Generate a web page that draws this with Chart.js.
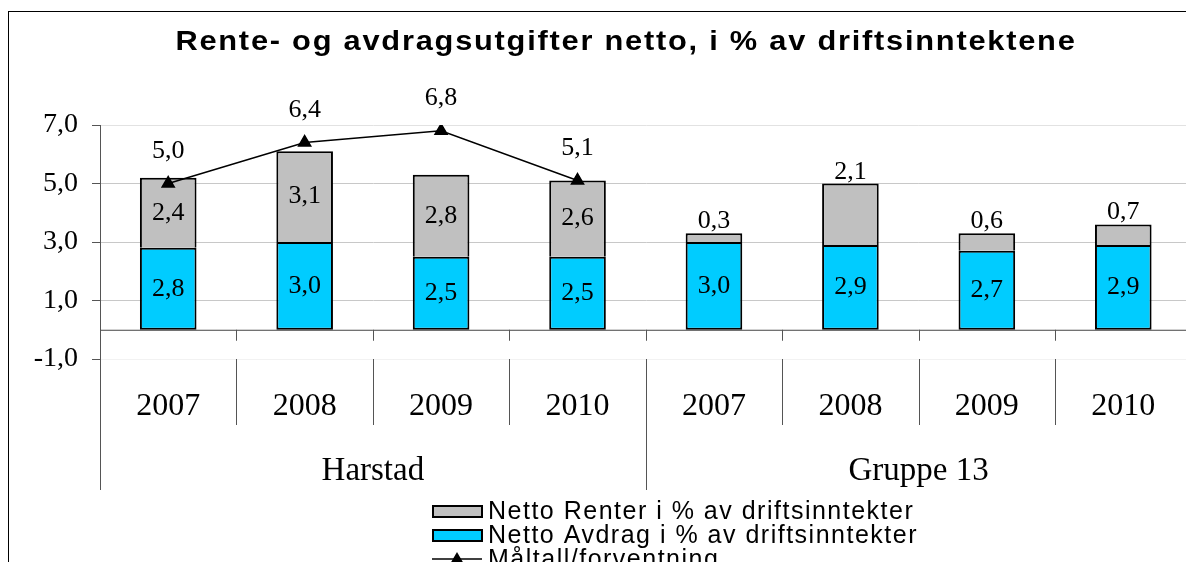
<!DOCTYPE html>
<html>
<head>
<meta charset="utf-8">
<title>Rente- og avdragsutgifter</title>
<script src="https://cdn.jsdelivr.net/npm/chart.js@4.4.0/dist/chart.umd.min.js"></script>
<style>
    html, body { margin: 0; padding: 0; background: #fff; overflow: hidden; width: 1186px; height: 562px; }
    #frame { position: absolute; left: 8px; top: 11px; width: 1400px; height: 800px; border-left: 1.5px solid #000; border-top: 1.5px solid #000; }
    #title { position: absolute; left: 0; top: 25px; width: 1252px; text-align: center; line-height: 28px;
             font: bold 28px "Liberation Sans", Arial, sans-serif; letter-spacing: 1.6px; color: #000;
             transform: scaleX(1.1); transform-origin: 626px 0; }
    #chart { position: absolute; left: 0; top: 0; }
</style>
</head>
<body>
<div id="frame"></div>
<canvas id="chart" width="1200" height="562"></canvas>
<div id="title">Rente- og avdragsutgifter netto, i % av driftsinntektene</div>
<script>
// data
var years = ['2007', '2008', '2009', '2010', '2007', '2008', '2009', '2010'];
var groups = ['Harstad', 'Gruppe 13'];
var avdrag = [2.8, 3.0, 2.5, 2.5, 3.0, 2.9, 2.7, 2.9];
var renter = [2.4, 3.1, 2.8, 2.6, 0.3, 2.1, 0.6, 0.7];
var maltall = [5.0, 6.4, 6.8, 5.1, null, null, null, null];
var yTicks = [-1, 1, 3, 5, 7];

var serif = '"Liberation Serif", "Times New Roman", serif';
var sans = '"Liberation Sans", Arial, sans-serif';

function fmt(v) {
    return v.toFixed(1).replace('.', ',');
}

// zero line, two-level category axis, value labels and legend
var excelPlugin = {
    id: 'excelPlugin',
    beforeDatasetsDraw: function (chart) {
        var ctx = chart.ctx, area = chart.chartArea;
        var y0 = chart.scales.y.getPixelForValue(0);
        ctx.save();
        ctx.strokeStyle = '#444';
        ctx.lineWidth = 1;
        ctx.beginPath();
        ctx.moveTo(area.left, y0 + 0.5);
        ctx.lineTo(area.right, y0 + 0.5);
        ctx.stroke();
        ctx.restore();
    },
    afterDatasetsDraw: function (chart) {
        var ctx = chart.ctx;
        ctx.save();
        ctx.fillStyle = '#000';
        ctx.font = '26px ' + serif;
        ctx.textAlign = 'center';

        // blue segments
        chart.getDatasetMeta(0).data.forEach(function (el, j) {
            ctx.textBaseline = 'middle';
            ctx.fillText(fmt(avdrag[j]), el.x, (el.y + el.base) / 2);
        });
        // gray segments: inside for Harstad, on top for Gruppe 13
        chart.getDatasetMeta(1).data.forEach(function (el, j) {
            if (j < 4) {
                ctx.textBaseline = 'middle';
                ctx.fillText(fmt(renter[j]), el.x, (el.y + el.base) / 2);
            } else {
                ctx.textBaseline = 'alphabetic';
                ctx.fillText(fmt(renter[j]), el.x, el.y - 5);
            }
        });
        // line points
        chart.getDatasetMeta(2).data.forEach(function (el, j) {
            if (maltall[j] === null) return;
            ctx.textBaseline = 'alphabetic';
            ctx.fillText(fmt(maltall[j]), el.x, el.y - 26);
        });
        ctx.restore();
    },
    afterDraw: function (chart) {
        var ctx = chart.ctx, area = chart.chartArea, x = chart.scales.x;
        var y0 = chart.scales.y.getPixelForValue(0);
        var half = (x.getPixelForValue(1) - x.getPixelForValue(0)) / 2;
        var n = years.length;
        ctx.save();
        ctx.strokeStyle = '#555';
        ctx.lineWidth = 1;
        ctx.beginPath();
        for (var i = 0; i <= n; i++) {
            var bx = Math.round((i < n ? x.getPixelForValue(i) - half : x.getPixelForValue(n - 1) + half)) + 0.5;
            ctx.moveTo(bx, y0);
            ctx.lineTo(bx, y0 + 11);
            ctx.moveTo(bx, area.bottom);
            ctx.lineTo(bx, (i % 4 === 0) ? area.bottom + 131 : area.bottom + 66);
        }
        ctx.stroke();

        ctx.fillStyle = '#000';
        ctx.textAlign = 'center';
        ctx.textBaseline = 'middle';
        ctx.font = '32px ' + serif;
        years.forEach(function (yr, j) {
            ctx.fillText(yr, x.getPixelForValue(j), area.bottom + 48);
        });
        ctx.font = '33px ' + serif;
        groups.forEach(function (g, k) {
            var cx = (x.getPixelForValue(k * 4) + x.getPixelForValue(k * 4 + 3)) / 2;
            ctx.fillText(g, cx, area.bottom + 112);
        });

        // legend
        var order = [1, 0, 2];
        var rows = [511, 535, 559];
        ctx.font = '25px ' + sans;
        ctx.textAlign = 'left';
        ctx.letterSpacing = '1.5px';
        order.forEach(function (di, r) {
            var ds = chart.data.datasets[di];
            var cy = rows[r];
            if (ds.type === 'line') {
                ctx.strokeStyle = '#000';
                ctx.lineWidth = 1.5;
                ctx.beginPath();
                ctx.moveTo(432, cy);
                ctx.lineTo(482, cy);
                ctx.stroke();
                ctx.fillStyle = '#000';
                ctx.beginPath();
                ctx.moveTo(457, cy - 7);
                ctx.lineTo(464, cy + 5);
                ctx.lineTo(450, cy + 5);
                ctx.closePath();
                ctx.fill();
            } else {
                ctx.fillStyle = ds.backgroundColor;
                ctx.fillRect(433, cy - 5, 49, 11);
                ctx.strokeStyle = '#000';
                ctx.lineWidth = 2;
                ctx.strokeRect(433, cy - 5, 49, 11);
            }
            ctx.fillStyle = '#000';
            ctx.fillText(ds.label, 488, cy + 1);
        });
        ctx.restore();
    }
};

var ctx = document.getElementById('chart').getContext('2d');
var chart = new Chart(ctx, {
    type: 'bar',
    data: {
        labels: years,
        datasets: [{
            label: 'Netto Avdrag i % av driftsinntekter',
            data: avdrag,
            backgroundColor: '#00CCFF',
            borderColor: '#000',
            borderWidth: 2,
            borderSkipped: false,
            barPercentage: 0.415,
            categoryPercentage: 1,
            order: 1
        }, {
            label: 'Netto Renter i % av driftsinntekter',
            data: renter,
            backgroundColor: '#C0C0C0',
            borderColor: '#000',
            borderWidth: 2,
            borderSkipped: 'start',
            barPercentage: 0.415,
            categoryPercentage: 1,
            order: 1
        }, {
            type: 'line',
            label: 'Måltall/forventning',
            data: maltall,
            stack: 'line',
            borderColor: '#000',
            borderWidth: 1.5,
            backgroundColor: '#000',
            pointStyle: 'triangle',
            pointRadius: 7,
            pointBackgroundColor: '#000',
            pointBorderColor: '#000',
            spanGaps: false,
            order: 0
        }]
    },
    options: {
        responsive: false,
        animation: false,
        layout: { padding: { left: 0, right: 0, top: 125, bottom: 203 } },
        plugins: {
            legend: { display: false },
            title: { display: false },
            tooltip: { enabled: false }
        },
        scales: {
            x: {
                display: false,
                stacked: true,
                offset: true
            },
            y: {
                stacked: true,
                min: -1,
                max: 7,
                afterBuildTicks: function (scale) {
                    scale.ticks = yTicks.map(function (v) { return { value: v }; });
                },
                afterFit: function (scale) {
                    scale.width = 100;
                    scale.paddingTop = 0;
                    scale.paddingBottom = 0;
                },
                border: { display: true, color: '#555', width: 1 },
                grid: {
                    color: function (c) {
                        if (c.tick && c.tick.value === -1) return '#f2f2f2';
                        if (c.tick && c.tick.value === 7) return '#e2e2e2';
                        return '#c8c8c8';
                    },
                    tickColor: '#555',
                    tickLength: 8
                },
                ticks: {
                    padding: 14,
                    color: '#000',
                    font: { family: serif, size: 28 },
                    callback: function (v) { return fmt(v); }
                }
            }
        }
    },
    plugins: [excelPlugin]
});
</script>
</body>
</html>
